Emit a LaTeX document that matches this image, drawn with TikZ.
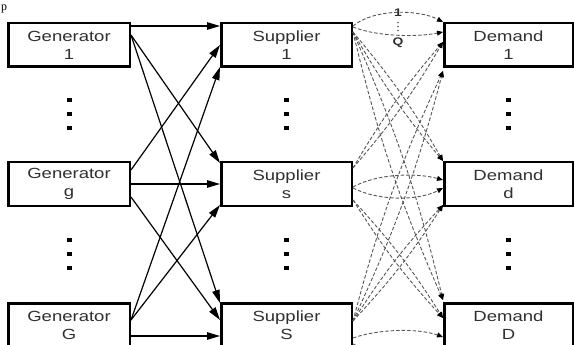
\documentclass[tikz,border=0pt]{standalone}
\usepackage{fontspec}
\newfontfamily\boxfont{Liberation Sans}[FakeStretch=1.26]
\newfontfamily\strayfont{Liberation Serif}
\usetikzlibrary{arrows.meta,calc}
\definecolor{txtgray}{HTML}{303030}
\definecolor{dashgray}{HTML}{555555}
\begin{document}
\begin{tikzpicture}[x=1pt,y=-1pt,
  box/.style={draw=black,line width=2.5pt,fill=white,minimum height=43.5pt,
    inner sep=0pt,align=center,text=txtgray,
    font=\boxfont\fontsize{14.7}{18}\selectfont},
  genbox/.style={box,minimum width=121.5pt},
  supbox/.style={box,minimum width=130.5pt},
  dembox/.style={box,minimum width=128.5pt},
  sq/.style={fill=black,minimum width=5pt,minimum height=4pt,inner sep=0pt},
  flow/.style={line width=1.2pt,-{Triangle[length=13pt,width=7.5pt]}},
  offer/.style={draw=dashgray,line width=0.9pt,dash pattern=on 3.5pt off 2pt,
    -{Triangle[length=6pt,width=5pt,color=black,fill=black]}},
  smalldot/.style={fill=dashgray,circle,minimum size=1.8pt,inner sep=0pt},
  qlabel/.style={text=txtgray,inner sep=0pt,font=\boxfont\bfseries\fontsize{11}{12}\selectfont}
]
\useasboundingbox (0,0) rectangle (574,345);
\node[inner sep=0pt,anchor=base west,font=\strayfont\fontsize{12}{12}\selectfont] (stray) at (1,11) {p};

% boxes
\node[genbox] (g1) at (69,45) {Generator\\1};
\node[genbox] (g2) at (69,184) {Generator\\g};
\node[genbox] (g3) at (69,325) {Generator\\G};
\node[supbox] (s1) at (286.5,45) {Supplier\\1};
\node[supbox] (s2) at (286.5,184) {Supplier\\s};
\node[supbox] (s3) at (286.5,325) {Supplier\\S};
\node[dembox] (d1) at (508.5,45) {Demand\\1};
\node[dembox] (d2) at (508.5,184) {Demand\\d};
\node[dembox] (d3) at (508.5,325) {Demand\\D};

% vertical dots
\foreach \col/\cx in {a/69,b/286.5,c/508.5}{
  \foreach \r/\cy in {1/100,2/114,3/128,4/240,5/254,6/268}{
    \node[sq] (dot\col\r) at (\cx,\cy) {};
  }
}

% generator -> supplier
\draw[flow] ($(g1.north east)+(0,4)$) -- ($(s1.north west)+(0,4)$);
\draw[flow] ($(g1.north east)+(0,13)$) -- ($(s2.north west)+(0,2)$);
\draw[flow] ($(g1.north east)+(0,13)$) -- ($(s3.north west)+(0,1)$);
\draw[flow] ($(g2.east)+(0,-14)$) -- (s1.west);
\draw[flow] (g2.east) -- (s2.west);
\draw[flow] ($(g2.east)+(0,13)$) -- ($(s3.west)+(0,-5)$);
\draw[flow] ($(g3.east)+(0,-5)$) -- ($(s1.south west)+(0,-1)$);
\draw[flow] ($(g3.east)+(0,-5)$) -- ($(s2.south west)+(0,-2)$);
\draw[flow] ($(g3.east)+(0,11)$) -- ($(s3.west)+(0,11)$);

% supplier -> demand, same row (1..Q)
\draw[offer] ($(s1.north east)+(0,4)$) .. controls +(20,-17) and +(-25,-13) .. (d1.north west);
\draw[offer] ($(s1.north east)+(0,5)$) .. controls +(25,10) and +(-25,5) .. ($(d1.north west)+(0,10)$);
\draw[offer] ($(s2.east)+(0,3)$) .. controls +(25,-14) and +(-25,-7) .. ($(d2.west)+(0,-4)$);
\draw[offer] ($(s2.east)+(0,4)$) .. controls +(25,13) and +(-25,13) .. ($(d2.west)+(0,4)$);
\draw[offer] ($(s3.east)+(0,13)$) .. controls +(25,-9) and +(-25,-9) .. ($(d3.west)+(0,12)$);
\draw[offer] ($(s3.east)+(0,19)$) .. controls +(25,12) and +(-25,8) .. ($(d3.west)+(0,26)$);

\node[qlabel] (lab1) at (398,13) {1};
\node[qlabel] (labQ) at (398,43) {Q};
\node[smalldot] (qd1) at (398,22.5) {};
\node[smalldot] (qd2) at (398,26.5) {};
\node[smalldot] (qd3) at (398,30.5) {};

% supplier -> demand, across rows
\foreach \b in {5,-5}{
  \draw[offer] ($(s1.north east)+(0,10)$) to[bend left=\b] (d2.north west);
  \draw[offer] ($(s1.north east)+(0,10)$) to[bend left=\b] ($(d3.north west)+(0,-2)$);
  \draw[offer] ($(s2.east)+(0,-16)$) to[bend left=\b] ($(d1.west)+(0,-3)$);
  \draw[offer] ($(s2.east)+(0,16)$) to[bend left=\b] ($(d3.west)+(0,-7)$);
  \draw[offer] ($(s3.east)+(0,-4)$) to[bend left=\b] ($(d1.south west)+(0,3)$);
  \draw[offer] ($(s3.east)+(0,-4)$) to[bend left=\b] ($(d2.south west)+(0,-2)$);
}
\end{tikzpicture}
\end{document}
